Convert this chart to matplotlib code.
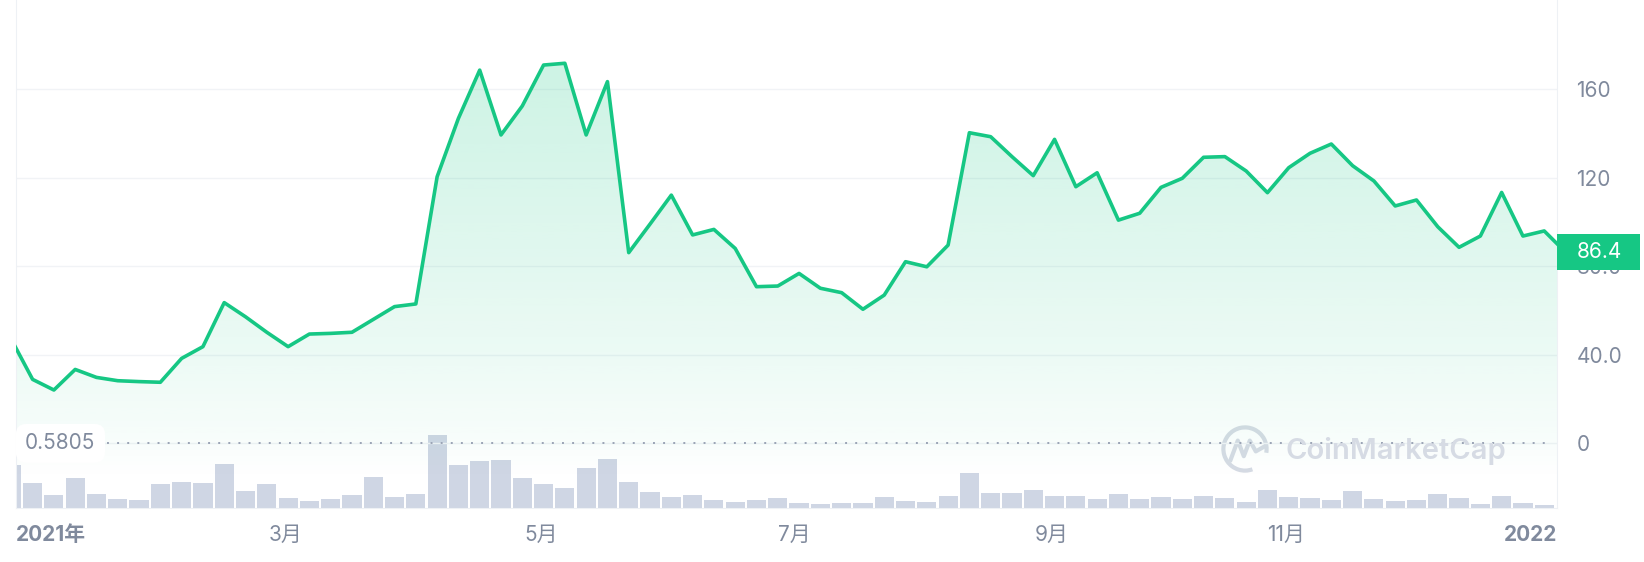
import numpy as np
import matplotlib.pyplot as plt
import matplotlib.transforms as mtransforms
from matplotlib.colors import to_rgb
from matplotlib.patches import Rectangle, Arc

plt.rcParams['font.family'] = ['Inter', 'Noto Sans CJK SC', 'DejaVu Sans']

# price every ~5 days through 2021 (last point = current price)
price = [47.0, 28.9, 24.1, 33.4, 29.8, 28.3, 27.9, 27.6, 38.4, 43.7,
         63.6, 57.2, 50.2, 43.7, 49.4, 49.7, 50.2, 56.0, 61.8, 63.0,
         120.5, 146.9, 168.7, 139.4, 152.5, 171.0, 171.8, 139.4, 163.5, 86.2,
         99.1, 112.2, 94.2, 96.7, 88.1, 70.8, 71.1, 76.8, 70.1, 68.1,
         60.6, 67.0, 82.1, 79.8, 89.6, 140.4, 138.6, 129.6, 121.0, 137.4,
         116.0, 122.3, 100.9, 104.0, 115.7, 119.8, 129.3, 129.6, 123.1, 113.3,
         124.6, 131.1, 135.3, 125.5, 118.6, 107.3, 110.0, 97.9, 88.6, 93.7,
         113.4, 93.7, 96.0, 86.4]
# traded volume, relative units
volume = [128, 74, 38, 89, 41, 26, 23, 71, 77, 74,
          131, 50, 71, 29, 20, 26, 38, 92, 32, 41,
          218, 128, 140, 143, 89, 71, 59, 119, 146, 77,
          47, 32, 38, 23, 17, 23, 29, 14, 11, 14,
          14, 32, 20, 17, 35, 104, 44, 44, 53, 35,
          35, 26, 41, 26, 32, 26, 35, 29, 17, 53,
          32, 29, 23, 50, 26, 20, 23, 41, 29, 11,
          35, 14, 8]
month_labels = ['2021年', '3月', '5月', '7月', '9月', '11月', '2022']
month_pos = [0.22, 12.9, 24.9, 36.8, 48.85, 59.85, 72.6]
price_ticks = [0, 40, 80, 120, 160]
price_tick_labels = ['0', '40.0', '80.0', '120', '160']
last_price = 86.4
ref_label = '0.5805'

GREEN = '#16c784'
GRAY = '#808a9d'
FS = 15

x = np.arange(len(price))
xv = np.arange(len(volume))
xmin, xmax = 0.22, 72.6
ymin, ymax = -29.1, 200.4

fig = plt.figure(figsize=(16.44, 5.62), dpi=100)
ax = fig.add_axes([16 / 1644, 54.3 / 562, 1541 / 1644, 507.7 / 562])
ax2 = ax.twinx()
ax.set_zorder(ax2.get_zorder() + 1)
ax.patch.set_visible(False)

# volume bars
ax2.bar(xv, volume, width=0.9, color='#cfd6e4', linewidth=0)
ax2.set_ylim(0, 1523)
ax2.set_yticks([])
for s in ax2.spines.values():
    s.set_visible(False)

# gradient area under the price line
poly = ax.fill_between(x, price, ymin, color='none', linewidth=0)
n = 400
lev = np.linspace(ymax, -15, n)
alpha = 0.24 * np.clip((lev + 15) / 215, 0, None) ** 0.8
rgba = np.zeros((n, 1, 4))
rgba[..., :3] = to_rgb(GREEN)
rgba[..., 3] = alpha[:, None]
im = ax.imshow(rgba, extent=[xmin - 1, xmax + 1, -15, ymax], aspect='auto',
               origin='upper', zorder=1, interpolation='bilinear')
im.set_clip_path(poly.get_paths()[0], ax.transData)

ax.plot(x, price, color=GREEN, lw=2.6, zorder=4)

ax.set_xlim(xmin, xmax)
ax.set_ylim(ymin, ymax)

# reference dotted line + label
ax.axhline(0, xmin=91 / 1541, xmax=1532 / 1541, color='#9aa3b5', lw=1.4,
           ls=(0, (1, 4.2)), zorder=3)
blend = mtransforms.blended_transform_factory(ax.transAxes, ax.transData)
ax.text(0.006, 0, ref_label, transform=blend, ha='left', va='center',
        fontsize=FS, color=GRAY, zorder=6,
        bbox=dict(boxstyle='round,pad=0.45,rounding_size=0.5', fc='white', ec='none'))

# grid / spines
ax.set_yticks(price_ticks, price_tick_labels)
ax.grid(axis='y', color='#f1f3f6', lw=1)
ax.set_axisbelow(True)
ax.spines['top'].set_visible(False)
for side in ['left', 'right', 'bottom']:
    ax.spines[side].set_color('#eef1f5')
ax.yaxis.tick_right()
ax.tick_params(axis='y', length=0, pad=14, labelsize=FS, labelcolor=GRAY)

ax.set_xticks(month_pos, month_labels)
ax.tick_params(axis='x', length=0, pad=12.5, labelsize=FS, labelcolor=GRAY)
xl = ax.get_xticklabels()
xl[0].set_ha('left')
xl[0].set_fontweight('bold')
xl[-1].set_ha('right')
xl[-1].set_fontweight('bold')

# current price tag
ax.add_patch(Rectangle((1.0, last_price - 8.1), 83 / 1541, 16.2, transform=blend,
                       facecolor=GREEN, edgecolor='none', clip_on=False, zorder=5))
ax.text(1.0 + 20 / 1541, last_price, f'{last_price}', transform=blend, ha='left',
        va='center', color='white', fontsize=FS, zorder=6, clip_on=False)

# watermark
ax.text(0.8235, -3.5, 'CoinMarketCap', transform=blend, ha='left', va='center',
        fontsize=21, fontweight='semibold', color='#d6dbe4', zorder=3)
lax = fig.add_axes([1221 / 1644, (562 - 473) / 562, 48 / 1644, 48 / 562])
lax.set_xlim(-1, 1)
lax.set_ylim(-1, 1)
lax.set_aspect('equal')
lax.axis('off')
lax.add_patch(Arc((0, 0), 1.8, 1.8, theta1=-10, theta2=290, color='#d6dbe4', lw=3))
lax.plot([-0.6, -0.3, -0.05, 0.2, 0.45, 0.8], [-0.45, 0.35, -0.3, 0.35, -0.1, 0.1],
         color='#d6dbe4', lw=3)

fig.savefig('out.png', dpi=100)
